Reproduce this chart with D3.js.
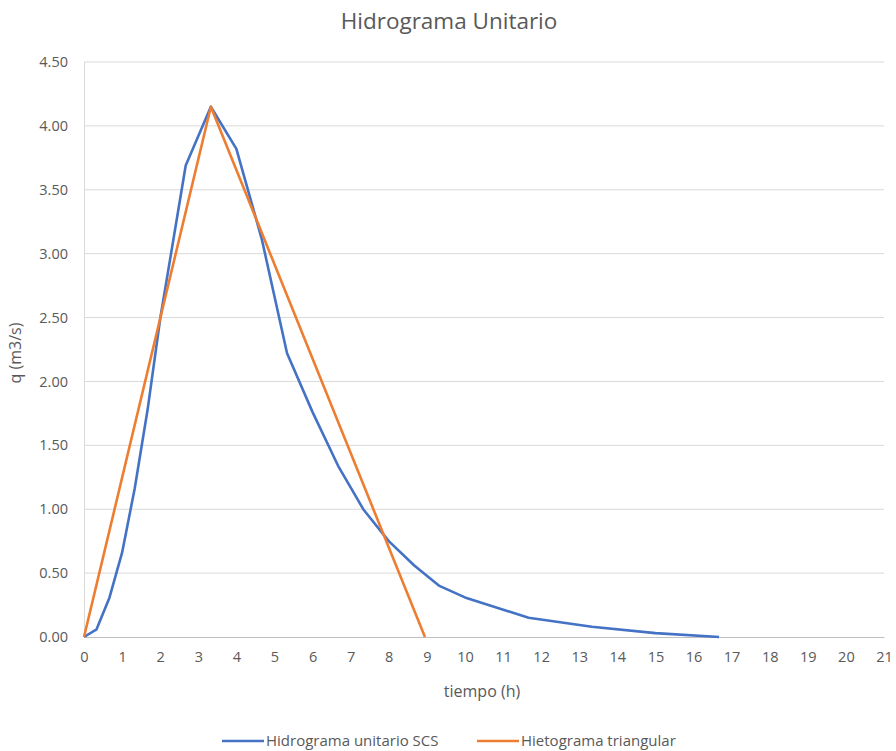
<!DOCTYPE html>
<html>
<head>
<meta charset="utf-8">
<script src="https://cdn.jsdelivr.net/npm/d3@7"></script>
<style>
  body { margin: 0; background: #fff; }
  svg text { font-family: "Open Sans", "Noto Sans", sans-serif; fill: #595959; }
</style>
</head>
<body>
<svg id="chart" width="896" height="751"></svg>
<script>
// SCS unit hydrograph (time in hours, discharge in m3/s)
const scsTime = [0, 0.33, 0.67, 1.00, 1.33, 1.67, 2.00, 2.67, 3.33, 4.00, 4.67, 5.33,
                 6.00, 6.67, 7.33, 8.00, 8.67, 9.33, 10.00, 11.67, 13.33, 15.00, 16.67];
const scsQ    = [0, 0.06, 0.31, 0.66, 1.16, 1.78, 2.49, 3.69, 4.15, 3.82, 3.11, 2.22,
                 1.76, 1.34, 1.00, 0.75, 0.56, 0.40, 0.31, 0.15, 0.08, 0.03, 0.00];

// Triangular hydrograph
const triTime = [0, 3.33, 8.95];
const triQ    = [0, 4.15, 0];

const xTicks = d3.range(0, 22, 1);
const yTicks = [0, 0.5, 1, 1.5, 2, 2.5, 3, 3.5, 4, 4.5];

const seriesNames = ["Hidrograma unitario SCS", "Hietograma triangular"];
const seriesColors = ["#4472C4", "#ED7D31"];

const svg = d3.select("#chart");

const x = d3.scaleLinear().domain([0, 21]).range([84, 884]);
const y = d3.scaleLinear().domain([0, 4.5]).range([637, 62]);

// Horizontal gridlines
svg.append("g")
  .selectAll("line")
  .data(yTicks.slice(1))
  .join("line")
  .attr("x1", x(0)).attr("x2", x(21))
  .attr("y1", d => y(d)).attr("y2", d => y(d))
  .attr("stroke", "#d9d9d9").attr("stroke-width", 1);

// Y axis
const yAxis = svg.append("g")
  .attr("transform", `translate(${x(0)},0)`)
  .call(d3.axisLeft(y).tickValues(yTicks).tickFormat(d3.format(".2f")).tickSize(0).tickPadding(16));
yAxis.select(".domain").attr("stroke", "#d9d9d9");
yAxis.selectAll("text").style("font-size", "14.5px").attr("fill", "#595959");

// X axis
const xAxis = svg.append("g")
  .attr("transform", `translate(0,${y(0)})`)
  .call(d3.axisBottom(x).tickValues(xTicks).tickFormat(d3.format("d")).tickSize(0).tickPadding(15));
xAxis.select(".domain").attr("stroke", "#bfbfbf");
xAxis.selectAll("text").style("font-size", "14.5px").attr("fill", "#595959");

// Lines
const line = d3.line().x(d => x(d[0])).y(d => y(d[1]));
const series = [
  d3.zip(scsTime, scsQ),
  d3.zip(triTime, triQ)
];
svg.append("g")
  .selectAll("path")
  .data(series)
  .join("path")
  .attr("d", line)
  .attr("fill", "none")
  .attr("stroke", (d, i) => seriesColors[i])
  .attr("stroke-width", 2.6)
  .attr("stroke-linejoin", "round");

// Title
svg.append("text")
  .attr("x", 449).attr("y", 29)
  .attr("text-anchor", "middle")
  .style("font-size", "22.5px")
  .text("Hidrograma Unitario");

// Axis titles
svg.append("text")
  .attr("x", 482).attr("y", 697)
  .attr("text-anchor", "middle")
  .style("font-size", "16px")
  .text("tiempo (h)");

svg.append("text")
  .attr("transform", "translate(21,353) rotate(-90)")
  .attr("text-anchor", "middle")
  .style("font-size", "16px")
  .text("q (m3/s)");

// Legend
const legendX = [222, 477];
const legend = svg.append("g").selectAll("g")
  .data(seriesNames)
  .join("g")
  .attr("transform", (d, i) => `translate(${legendX[i]},741)`);
legend.append("line")
  .attr("x1", 0).attr("x2", 42).attr("y1", 0).attr("y2", 0)
  .attr("stroke", (d, i) => seriesColors[i]).attr("stroke-width", 2.6);
legend.append("text")
  .attr("x", 44).attr("y", 5)
  .style("font-size", "15px")
  .text(d => d);
</script>
</body>
</html>
